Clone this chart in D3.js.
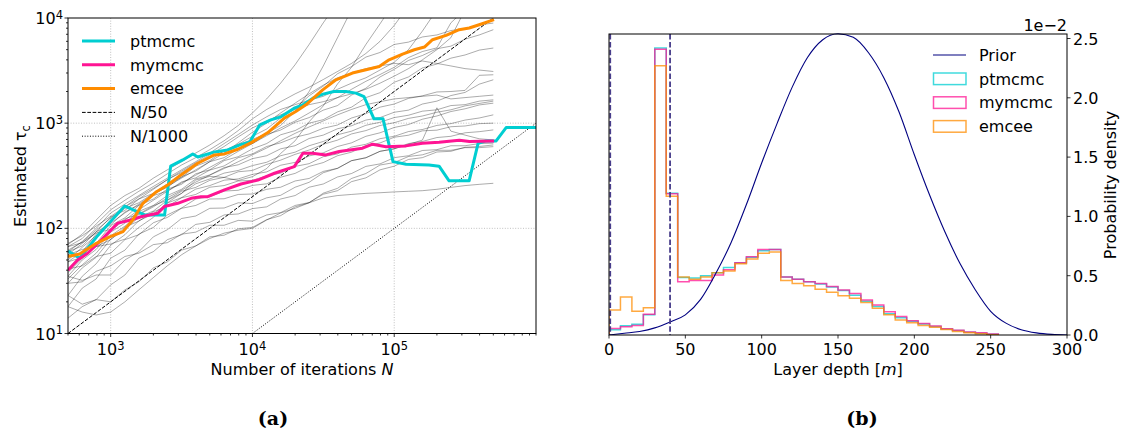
<!DOCTYPE html>
<html><head><meta charset="utf-8">
<script src="https://cdn.jsdelivr.net/npm/d3@7"></script>
<style>body{margin:0;background:#fff}svg{display:block}text{font-family:"DejaVu Sans",sans-serif;fill:#000}</style>
</head><body><svg id="c" width="1125" height="437"></svg>
<script>
// ---------------- data: panel (a) ----------------
const grayN = [500,630,790,1000,1260,1580,2000,2510,3160,3980,5000,6310,7940,10000,12600,15800,20000,25100,31600,39800,50000,63100,79400,100000,126000,158000,200000,251000,316000,398000,500000];
const grayA = [70,88,120,165,205,240,300,360,430,520,620,760,950,1250,1700,2400,3600,5600,9000,14000];
const grayB = [67,80,110,150,185,225,270,330,400,470,560,680,850,1100,1350,1600,1900,2200,2600,3100,3700,4600,6000,8500,13000];
const grayC = [60,75,100,140,170,205,250,300,360,430,520,640,780,960,1150,1350,1500,1650,1800,2100,2400,2700,3200,3800,5000,7500,12000];
const grayD = [72,85,105,130,160,200,240,290,350,420,500,600,740,900,1050,1200,1350,1500,1600,1750,1900,2100,2400,2800,3300,4000,5000,6500,12000];
const grayE = [56,72,92,128,148,190,215,265,305,390,440,550,630,750,880,1120,1380,1820,2250,2950,3450,4250,4700,5600,5900,6600,6900,7600,7900,8600,8950];
const grayF = [48,60,88,118,155,175,215,245,310,350,430,470,570,640,780,860,1020,1130,1330,1470,1850,2150,2750,3250,3950,4400,5100,5400,6300,6900,7740];
const grayG = [41,57,72,106,126,165,190,236,262,330,360,440,480,570,640,775,850,1000,1080,1280,1420,1750,1950,2450,2750,3350,3650,4150,4450,4950,5180];
const grayH = [60,68,93,108,143,166,205,226,276,302,358,392,470,510,600,650,735,790,895,960,1120,1230,1420,1520,1720,1820,1980,2000,2050,2850,2886];
const grayI = [35,50,63,92,112,145,165,205,235,295,322,378,402,460,490,570,610,715,770,885,945,1070,1130,1270,1330,1520,1620,1830,1960,2350,2585];
const grayJ = [30,42,53,79,97,128,146,185,215,265,295,335,355,395,425,490,530,610,670,775,840,955,1020,1130,1190,1300,1340,1470,1500,1620,1667];
const grayK = [67,73,90,98,123,137,164,186,225,245,286,305,345,355,405,445,505,555,630,690,790,850,950,1010,1110,1170,1270,1340,1460,1540,1620];
const grayL = [23,35,46,69,87,118,137,174,196,236,255,287,295,326,344,398,424,488,522,600,650,750,810,910,970,1090,1170,1290,1370,1490,1549];
const grayM = [48,53,67,78,103,117,144,161,195,210,246,255,282,286,316,335,388,412,480,510,592,630,712,750,832,870,952,990,1070,1120,1200];
const grayNn = [18,27,33,52,62,88,102,134,156,190,200,226,230,256,265,306,333,388,422,490,530,612,648,735,768,845,858,925,940,990,1000];
const grayO = [41,44,54,58,78,87,113,127,155,165,190,191,210,212,235,246,282,298,348,372,440,470,540,570,640,670,730,750,810,830,863];
const grayP = [35,32,36,36,50,60,83,97,124,131,155,156,175,172,195,206,246,274,338,372,440,468,540,570,630,690,1400,840,770,710,693];
const grayQ = [14,18,21,29,36,52,60,78,87,109,114,134,137,154,160,190,205,246,264,308,332,388,410,470,490,550,560,610,610,640,645];
const grayR = [30,31,39,44,54,58,70,73,88,92,107,107,119,117,134,141,165,176,211,228,278,302,360,390,452,470,532,540,590,600,621];
const grayS = [23,19,21,20,26,31,42,48,62,68,83,86,99,102,121,132,160,175,216,240,298,332,400,422,482,500,552,552,585,585,598];
const grayT = [18,16,15,16,20,26,34,44,56,68,80,90,96,100,120,140,155,175,195,205,210,215,218,222,225,228,235,245,255,262,268];
const grayU = [56,63,67,71,79,102,127,175,215,288,312,305,285,310,370,515,680,1030,1460,2360,3400,5600,8800,14000];
const grayV = [50,66,85,112,140,170,210,250,300,360,430,520,650,820,1000,1250,1550,1900,2300,2700,3000,3300,3500,3700,3600,3900,3700,3500,3300,3200,3100];
const grayW = [62,74,96,125,160,190,235,290,340,410,470,540,620,700,800,950,1300,2000,3500,6500,12000];
const grayX = [38,52,70,96,120,150,185,225,270,320,380,450,540,640,760,900,1050,1250,1500,1750,2100,2500,2900,3400,4200,4800,5200,9000,12000];
const grayY = [33,45,58,85,105,135,160,195,230,275,320,370,430,500,580,680,800,920,1050,1200,1350,1500,1600,1700,1750,1800,1850,1700,1750,1800,1850];
const grayRuns = [grayA,grayB,grayC,grayD,grayE,grayF,grayG,grayH,grayI,grayJ,grayK,grayL,grayM,grayNn,grayO,grayP,grayQ,grayR,grayS,grayT,grayU,grayV,grayW,grayX,grayY];

const ptmcmcN = [500,604,797,1256,1738,2400,2650,3225,3795,4115,5427,6705,8147,9585,11280,13489,15874,19926,22694,26712,31424,37580,45670,53734,61211,72000,83370,98058,121100,176100,207200,243800,337500,390700,444900,523500,615700,852800,1000000];
const ptmcmcTau = [61,52,83,163,134,134,390,447,510,477,533,557,621,664,964,1075,1148,1400,1494,1730,1889,2000,2000,1931,1792,1099,1099,431,407,400,390,283,283,645,678,678,908,908,908];
const mymcmcN = [500,585,688,854,1121,1391,1637,2147,2390,2973,3690,4330,4842,6350,8300,10917,14300,19740,22694,26500,32994,40900,59800,70300,87540,121100,158000,207200,288000,339000,506000];
const mymcmcTau = [40,50,58,77,112,120,129,139,161,173,193,200,200,232,264,288,334,386,518,518,499,537,578,631,598,608,645,659,689,670,678];
const emceeN = [500,604,792,984,1222,1430,1690,2104,2526,3130,4115,5390,6350,7885,9800,12850,16800,20220,23830,31300,38800,50700,63200,78400,92000,114500,138600,163300,186300,232200,287000,338000,397500,506000];
const emceeTau = [54,57,72,83,93,120,173,223,258,322,416,499,510,565,653,814,1116,1290,1494,2075,2585,2994,3218,3459,4008,4543,4990,5297,6213,6826,7739,8032,8635,9640];
const refN50 = [500,500000];      // tau = N/50
const refN1000 = [10000,1000000]; // tau = N/1000
const xTickExpA = [3,4,5];
const yTickExpA = [1,2,3,4];
const legendA = ["ptmcmc","mymcmc","emcee","N/50","N/1000"];

// ---------------- data: panel (b) ----------------
const binEdges = [0,7.5,15,22.5,30,37.5,45,52.5,60,67.5,75,82.5,90,97.5,105,112.5,120,127.5,135,142.5,150,157.5,165,172.5,180,187.5,195,202.5,210,217.5,225,232.5,240,247.5,255];
const histPtmcmc = [0.045,0.079,0.09,0.17,2.42,1.195,0.485,0.48,0.50,0.525,0.57,0.61,0.655,0.71,0.72,0.49,0.47,0.45,0.43,0.405,0.375,0.335,0.285,0.24,0.18,0.145,0.115,0.092,0.072,0.05,0.037,0.023,0.014,0.006];
const histMymcmc = [0.055,0.07,0.08,0.175,2.41,1.19,0.45,0.46,0.46,0.505,0.55,0.61,0.66,0.72,0.72,0.49,0.47,0.45,0.435,0.41,0.38,0.35,0.295,0.253,0.196,0.155,0.12,0.098,0.076,0.053,0.04,0.025,0.018,0.008];
const histEmcee = [0.21,0.32,0.20,0.23,2.27,1.17,0.49,0.47,0.49,0.525,0.54,0.60,0.64,0.69,0.70,0.46,0.435,0.415,0.385,0.36,0.33,0.31,0.275,0.225,0.17,0.127,0.104,0.08,0.065,0.047,0.03,0.02,0.01,0.003];
const priorDepth = [0,10,20,30,40,50,60,70,80,90,100,110,120,130,140,150,160,170,180,190,200,210,220,230,240,250,260,270,280,290,300];
const priorDens = [0.0,0.015,0.03,0.06,0.11,0.17,0.30,0.52,0.78,1.10,1.45,1.78,2.09,2.34,2.49,2.54,2.51,2.38,2.17,1.88,1.52,1.18,0.87,0.60,0.38,0.20,0.10,0.045,0.018,0.005,0.0];
const depthLines = [0.8,40];
const xTicksB = [0,50,100,150,200,250,300];
const yTicksB = [0,0.5,1.0,1.5,2.0,2.5];
const legendB = ["Prior","ptmcmc","mymcmc","emcee"];

const colPt = "#00CED1", colMy = "#FF1493", colEm = "#FF8C00";

// ---------------- drawing ----------------
const svg = d3.select("#c");
const FS = 16;

// ===== panel (a) =====
const ax = {x0:68, x1:536, y0:18, y1:333.5};
const xA = d3.scaleLog().domain([500,1e6]).range([ax.x0,ax.x1]);
const yA = d3.scaleLog().domain([10,1e4]).range([ax.y1,ax.y0]);
svg.append("clipPath").attr("id","clipA").append("rect")
  .attr("x",ax.x0).attr("y",ax.y0).attr("width",ax.x1-ax.x0).attr("height",ax.y1-ax.y0);
const gA = svg.append("g");
const gridA = gA.append("g").attr("stroke","#b0b0b0").attr("stroke-width",0.8).attr("stroke-dasharray","1,1.6");
xTickExpA.forEach(e=>gridA.append("line").attr("x1",xA(10**e)).attr("x2",xA(10**e)).attr("y1",ax.y0).attr("y2",ax.y1));
[2,3].forEach(e=>gridA.append("line").attr("y1",yA(10**e)).attr("y2",yA(10**e)).attr("x1",ax.x0).attr("x2",ax.x1));

const plotA = gA.append("g").attr("clip-path","url(#clipA)");
const lineA = d3.line().x(d=>xA(d[0])).y(d=>yA(d[1]));
grayRuns.forEach(run=>{
  plotA.append("path").datum(run.map((t,i)=>[grayN[i],t]))
    .attr("d",lineA).attr("fill","none").attr("stroke","#000").attr("stroke-opacity",0.33).attr("stroke-width",1);
});
plotA.append("path").datum(refN50.map(n=>[n,n/50])).attr("d",lineA)
  .attr("fill","none").attr("stroke","#000").attr("stroke-width",1).attr("stroke-dasharray","3.7,1.6");
plotA.append("path").datum(refN1000.map(n=>[n,n/1000])).attr("d",lineA)
  .attr("fill","none").attr("stroke","#000").attr("stroke-width",1).attr("stroke-dasharray","1,1.65");
[[ptmcmcN,ptmcmcTau,colPt],[mymcmcN,mymcmcTau,colMy],[emceeN,emceeTau,colEm]].forEach(([ns,ts,c])=>{
  plotA.append("path").datum(ns.map((n,i)=>[n,ts[i]])).attr("d",lineA)
    .attr("fill","none").attr("stroke",c).attr("stroke-width",3).attr("stroke-linejoin","round");
});
gA.append("rect").attr("x",ax.x0).attr("y",ax.y0).attr("width",ax.x1-ax.x0).attr("height",ax.y1-ax.y0)
  .attr("fill","none").attr("stroke","#000").attr("stroke-width",1);
const xMinorA = xA.ticks().filter(v=>!xTickExpA.map(e=>10**e).includes(v));
const yMinorA = yA.ticks().filter(v=>!yTickExpA.map(e=>10**e).includes(v));
const tk = gA.append("g").attr("stroke","#000").attr("stroke-width",0.8);
xMinorA.forEach(v=>tk.append("line").attr("x1",xA(v)).attr("x2",xA(v)).attr("y1",ax.y1).attr("y2",ax.y1+2));
xTickExpA.forEach(e=>tk.append("line").attr("x1",xA(10**e)).attr("x2",xA(10**e)).attr("y1",ax.y1).attr("y2",ax.y1+3.5));
yMinorA.forEach(v=>tk.append("line").attr("y1",yA(v)).attr("y2",yA(v)).attr("x1",ax.x0).attr("x2",ax.x0-2));
yTickExpA.forEach(e=>tk.append("line").attr("y1",yA(10**e)).attr("y2",yA(10**e)).attr("x1",ax.x0).attr("x2",ax.x0-3.5));
function powLabel(g,x,y,exp,anchor){
  const t=g.append("text").attr("x",x).attr("y",y).attr("text-anchor",anchor).style("font-size",FS+"px").text("10");
  t.append("tspan").attr("dy","-0.45em").style("font-size","11.5px").text(exp);
  return t;
}
xTickExpA.forEach(e=>powLabel(gA,xA(10**e),355,e,"middle"));
yTickExpA.forEach(e=>powLabel(gA,ax.x0-5,yA(10**e)+6,e,"end"));
const xlA = gA.append("text").attr("x",(ax.x0+ax.x1)/2).attr("y",375).attr("text-anchor","middle").style("font-size",FS+"px").text("Number of iterations ");
xlA.append("tspan").style("font-style","italic").text("N");
const ylA = gA.append("text").attr("transform","translate(26,176) rotate(-90)").attr("text-anchor","middle").style("font-size",FS+"px").text("Estimated τ");
ylA.append("tspan").attr("dy","4").style("font-size","11.5px").text("c");
const legA = gA.append("g");
const legStyles = [[colPt,3,null],[colMy,3,null],[colEm,3,null],["#000",1,"3.7,1.6"],["#000",1,"1,1.65"]];
legendA.forEach((lab,i)=>{
  const y = 41 + i*23.8;
  const s = legStyles[i];
  const l = legA.append("line").attr("x1",82).attr("x2",115).attr("y1",y).attr("y2",y)
    .attr("stroke",s[0]).attr("stroke-width",s[1]);
  if(s[2]) l.attr("stroke-dasharray",s[2]);
  legA.append("text").attr("x",130).attr("y",y+5.8).style("font-size",FS+"px").text(lab);
});
svg.append("text").attr("x",273).attr("y",425).attr("text-anchor","middle")
  .style("font-family","'DejaVu Serif',serif").style("font-weight","bold").style("font-size","19px").text("(a)");

// ===== panel (b) =====
const bx = {x0:609, x1:1067, y0:34, y1:335};
const xB = d3.scaleLinear().domain([0,300]).range([bx.x0,bx.x1]);
const yB = d3.scaleLinear().domain([0,2.538]).range([bx.y1,bx.y0]);
svg.append("clipPath").attr("id","clipB").append("rect")
  .attr("x",bx.x0).attr("y",bx.y0-1).attr("width",bx.x1-bx.x0).attr("height",bx.y1-bx.y0+1);
const gB = svg.append("g");
const plotB = gB.append("g").attr("clip-path","url(#clipB)");
const lineB = d3.line().x(d=>xB(d[0])).y(d=>yB(d[1]));
const curveB = d3.line().x(d=>xB(d[0])).y(d=>yB(d[1])).curve(d3.curveMonotoneX);
function stepPts(vals){
  const pts=[[binEdges[0],0]];
  vals.forEach((v,i)=>{pts.push([binEdges[i],v]);pts.push([binEdges[i+1],v]);});
  pts.push([binEdges[vals.length],0]);
  return pts;
}
[[histPtmcmc,colPt],[histMymcmc,colMy],[histEmcee,colEm]].forEach(([vals,c])=>{
  plotB.append("path").datum(stepPts(vals)).attr("d",lineB).attr("fill","none")
    .attr("stroke",c).attr("stroke-width",1.5).attr("stroke-opacity",0.75);
});
plotB.append("path").datum(priorDepth.map((d,i)=>[d,priorDens[i]]))
  .attr("d",curveB).attr("fill","none").attr("stroke","#000080").attr("stroke-width",1.1);
depthLines.forEach(d=>plotB.append("line").attr("x1",xB(d)).attr("x2",xB(d)).attr("y1",bx.y0).attr("y2",bx.y1)
  .attr("stroke","#483D8B").attr("stroke-width",1.8).attr("stroke-dasharray","5.5,2.4"));
gB.append("rect").attr("x",bx.x0).attr("y",bx.y0).attr("width",bx.x1-bx.x0).attr("height",bx.y1-bx.y0)
  .attr("fill","none").attr("stroke","#000").attr("stroke-width",1);
const tkB = gB.append("g").attr("stroke","#000").attr("stroke-width",0.8);
xTicksB.forEach(v=>{
  tkB.append("line").attr("x1",xB(v)).attr("x2",xB(v)).attr("y1",bx.y1).attr("y2",bx.y1+3.5);
  gB.append("text").attr("x",xB(v)).attr("y",355).attr("text-anchor","middle").style("font-size",FS+"px").text(v);
});
yTicksB.forEach(v=>{
  tkB.append("line").attr("y1",yB(v)).attr("y2",yB(v)).attr("x1",bx.x1).attr("x2",bx.x1+3.5);
  gB.append("text").attr("x",bx.x1+6).attr("y",yB(v)+6).style("font-size",FS+"px").text(d3.format(".1f")(v));
});
gB.append("text").attr("x",bx.x1).attr("y",31).attr("text-anchor","end").style("font-size",FS+"px").text("1e\u22122");
const xlB = gB.append("text").attr("x",(bx.x0+bx.x1)/2).attr("y",375).attr("text-anchor","middle").style("font-size",FS+"px").text("Layer depth [");
xlB.append("tspan").style("font-style","italic").text("m");
xlB.append("tspan").text("]");
gB.append("text").attr("transform","translate(1116,185) rotate(-90)").attr("text-anchor","middle").style("font-size",FS+"px").text("Probability density");
const legB = gB.append("g");
const legColsB = ["#000080",colPt,colMy,colEm];
legendB.forEach((lab,i)=>{
  const y = 55 + i*23.8;
  if(i===0){
    legB.append("line").attr("x1",933).attr("x2",966).attr("y1",y).attr("y2",y).attr("stroke",legColsB[i]).attr("stroke-width",1.1);
  } else {
    legB.append("rect").attr("x",933.5).attr("y",y-5.8).attr("width",32.5).attr("height",11.6)
      .attr("fill","none").attr("stroke",legColsB[i]).attr("stroke-width",1.5).attr("stroke-opacity",0.75);
  }
  legB.append("text").attr("x",979).attr("y",y+5.8).style("font-size",FS+"px").text(lab);
});
svg.append("text").attr("x",862).attr("y",425).attr("text-anchor","middle")
  .style("font-family","'DejaVu Serif',serif").style("font-weight","bold").style("font-size","19px").text("(b)");
</script></body></html>
